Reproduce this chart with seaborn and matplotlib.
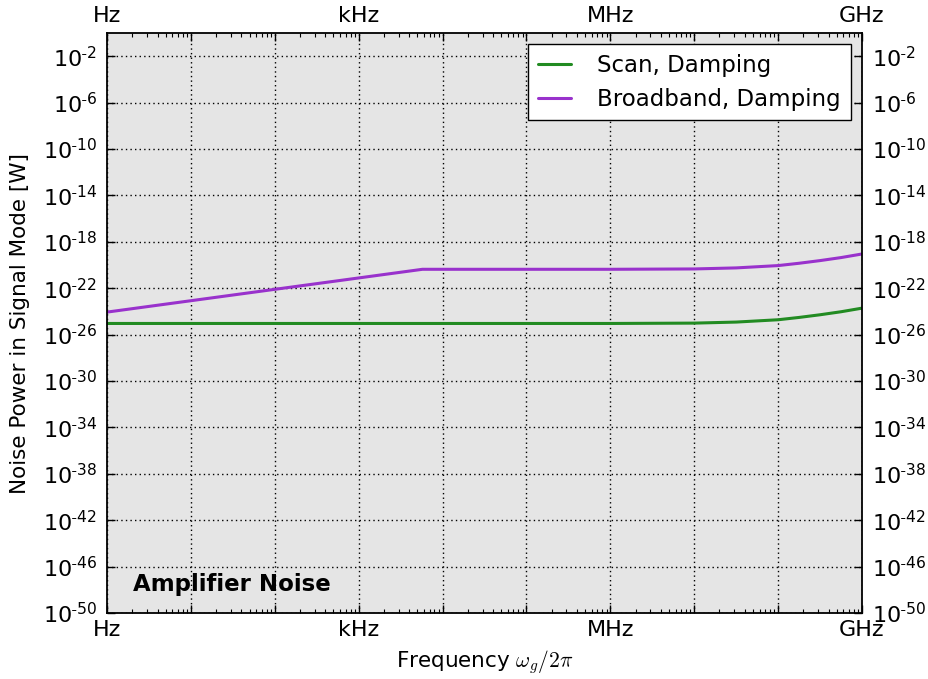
import matplotlib
matplotlib.use("Agg")
import matplotlib.pyplot as plt
import matplotlib.ticker as mticker
import numpy as np
import pandas as pd
import seaborn as sns

# values (log10 of frequency in Hz, log10 of power in W)
scan_logf = [0.0, 6.0, 7.0, 7.5, 8.0, 8.25, 8.5, 8.75, 9.0]
scan_logp = [-25.04, -25.04, -25.01, -24.92, -24.72, -24.52, -24.29, -24.03, -23.72]
broad_logf = [0.0, 3.76, 6.0, 7.0, 7.5, 8.0, 8.25, 8.5, 8.75, 9.0]
broad_logp = [-24.06, -20.37, -20.37, -20.34, -20.25, -20.05, -19.85, -19.62, -19.36, -19.05]
series_names = ["Scan, Damping", "Broadband, Damping"]
series_colors = ["#228b22", "#9932cc"]
xtick_labels = ["Hz", "", "", "kHz", "", "", "MHz", "", "", "GHz"]
ytick_exps = list(range(-50, 1, 4))

df = pd.concat([
    pd.DataFrame({"freq": 10.0 ** np.array(scan_logf),
                  "power": 10.0 ** np.array(scan_logp),
                  "series": series_names[0]}),
    pd.DataFrame({"freq": 10.0 ** np.array(broad_logf),
                  "power": 10.0 ** np.array(broad_logp),
                  "series": series_names[1]}),
])

sns.set_style("ticks", {"axes.facecolor": "#e5e5e5", "axes.edgecolor": "black",
                        "text.color": "black", "axes.labelcolor": "black",
                        "xtick.color": "black", "ytick.color": "black"})
plt.rcParams["font.family"] = ["DejaVu Sans"]
plt.rcParams["mathtext.fontset"] = "cm"


def exp_label(v, pos):
    e = int(round(np.log10(v)))
    sign = r"\text{-}" if e < 0 else ""
    return r"$\mathdefault{10^{%s%d}}$" % (sign, abs(e))


fig = plt.figure(figsize=(9.29, 6.79), dpi=100)
ax = fig.add_axes([0.1152, 0.0972, 0.8127, 0.8542])

sns.lineplot(data=df, x="freq", y="power", hue="series", sort=False,
             estimator=None, palette=dict(zip(series_names, series_colors)),
             linewidth=2.2, ax=ax)

ax.set_xscale("log")
ax.set_yscale("log")
ax.set_xlim(1e0, 1e9)
ax.set_ylim(1e-50, 1e0)

ax.xaxis.set_major_locator(mticker.FixedLocator([10.0 ** k for k in range(10)]))
ax.xaxis.set_major_formatter(mticker.FixedFormatter(xtick_labels))
ax.xaxis.set_minor_locator(mticker.LogLocator(base=10, subs=np.arange(2, 10), numticks=20))
ax.xaxis.set_minor_formatter(mticker.NullFormatter())
ax.yaxis.set_major_locator(mticker.FixedLocator([10.0 ** e for e in ytick_exps]))
ax.yaxis.set_major_formatter(mticker.FuncFormatter(exp_label))
ax.yaxis.set_minor_locator(mticker.NullLocator())

ax.tick_params(which="both", direction="in", top=True, right=True,
               labeltop=True, labelright=True)
ax.tick_params(which="major", length=6, width=1)
ax.tick_params(which="minor", length=3, width=0.8)
ax.tick_params(axis="x", labelsize=16, pad=5)
ax.tick_params(axis="y", labelsize=16, pad=7)
ax.grid(True, which="major", color="black", linewidth=1.0, linestyle=(0, (1, 2.3)))
for s in ax.spines.values():
    s.set_linewidth(1.3)

ax.set_xlabel(r"Frequency $\omega_g/2\pi$", fontsize=15.5, labelpad=6)
ax.set_ylabel("Noise Power in Signal Mode [W]", fontsize=15.5, labelpad=9)

ax.text(0.034, 0.038, "Amplifier Noise", transform=ax.transAxes,
        fontsize=16.5, fontweight="bold", ha="left", va="baseline")

leg = ax.legend(loc="upper right", fontsize=16.5, frameon=True, fancybox=False,
                borderaxespad=0.5, handlelength=1.45, handletextpad=1.15,
                borderpad=0.42, labelspacing=0.47)
leg.get_frame().set_edgecolor("black")
leg.get_frame().set_facecolor("white")
leg.get_frame().set_alpha(1)
leg.get_frame().set_linewidth(1.0)

fig.savefig("out.png", dpi=100)
